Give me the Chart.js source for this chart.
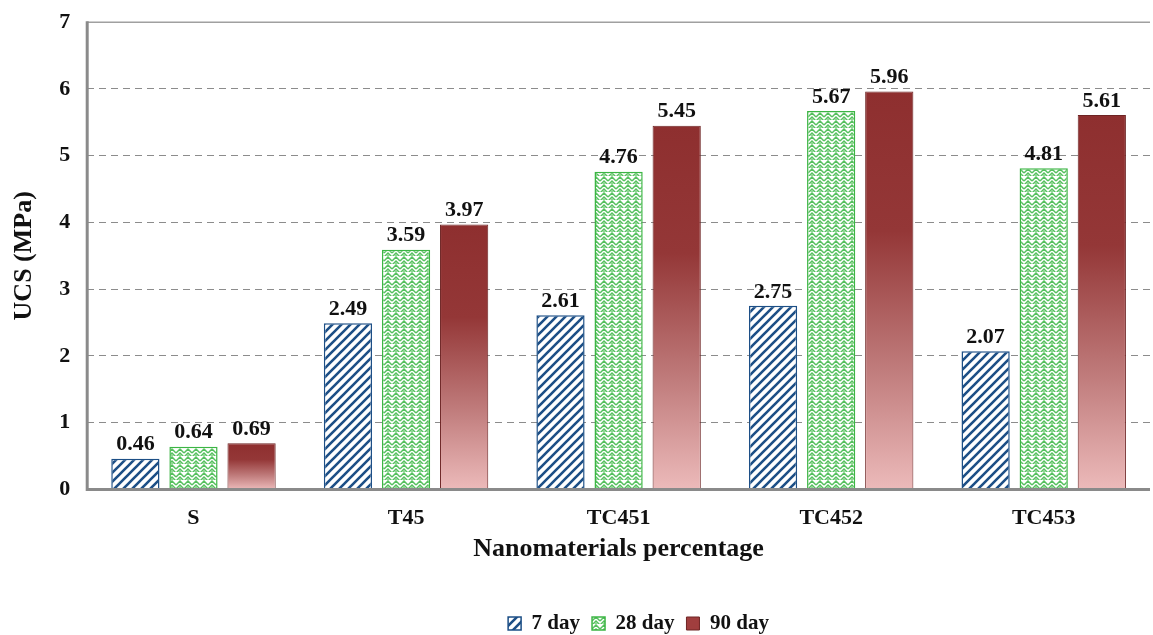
<!DOCTYPE html>
<html>
<head>
<meta charset="utf-8">
<script src="https://cdn.jsdelivr.net/npm/chart.js@4.4.1/dist/chart.umd.min.js"></script>
<style>
  html, body { margin: 0; padding: 0; background: #fff; }
  #wrap { width: 1153px; height: 635px; position: relative; }
</style>
</head>
<body>
<div id="wrap"><canvas id="myChart" width="1153" height="635"></canvas></div>
<script>
var categories = ['S', 'T45', 'TC451', 'TC452', 'TC453'];
var day7 = [0.46, 2.49, 2.61, 2.75, 2.07];
var day28 = [0.64, 3.59, 4.76, 5.67, 4.81];
var day90 = [0.69, 3.97, 5.45, 5.96, 5.61];
var seriesNames = ['7 day', '28 day', '90 day'];
var yTicks = [0, 1, 2, 3, 4, 5, 6, 7];

var FONT = "'Liberation Serif', 'Times New Roman', serif";

// blue diagonal stripes for 7 day
function stripePattern() {
    var c = document.createElement('canvas');
    c.width = 9; c.height = 9;
    var g = c.getContext('2d');
    g.fillStyle = '#fff';
    g.fillRect(0, 0, 9, 9);
    g.strokeStyle = '#1d4f86';
    g.lineWidth = 2.6;
    g.beginPath();
    g.moveTo(-2, 11); g.lineTo(11, -2);
    g.moveTo(-11, 11); g.lineTo(2, -2);
    g.moveTo(7, 11); g.lineTo(20, -2);
    g.stroke();
    return document.getElementById('myChart').getContext('2d').createPattern(c, 'repeat');
}

// green zigzag texture for 28 day
function zigzagPattern() {
    var c = document.createElement('canvas');
    c.width = 8; c.height = 8;
    var g = c.getContext('2d');
    g.fillStyle = '#fff';
    g.fillRect(0, 0, 8, 8);
    g.strokeStyle = '#55c05e';
    g.lineWidth = 1.5;
    g.beginPath();
    g.moveTo(0, 5); g.lineTo(4, 1); g.lineTo(8, 5);
    g.moveTo(0, 9); g.lineTo(4, 5); g.lineTo(8, 9);
    g.stroke();
    g.fillStyle = '#8fd693';
    g.fillRect(3, 6, 2, 2);
    return document.getElementById('myChart').getContext('2d').createPattern(c, 'repeat');
}

function redGradient(context) {
    var chart = context.chart;
    var area = chart.chartArea;
    if (!area || context.raw === undefined) return '#933434';
    var y = chart.scales.y;
    var top = y.getPixelForValue(context.raw);
    var bot = y.getPixelForValue(0);
    var grad = chart.ctx.createLinearGradient(0, top, 0, bot);
    grad.addColorStop(0, '#8e2f2f');
    grad.addColorStop(0.35, '#943737');
    grad.addColorStop(0.7, '#c07c7c');
    grad.addColorStop(1, '#ecbaba');
    return grad;
}

var valueLabels = {
    id: 'valueLabels',
    afterDatasetsDraw: function(chart) {
        var ctx = chart.ctx;
        ctx.save();
        ctx.font = 'bold 22px ' + FONT;
        ctx.fillStyle = '#111';
        ctx.textAlign = 'center';
        ctx.textBaseline = 'bottom';
        chart.data.datasets.forEach(function(ds, i) {
            chart.getDatasetMeta(i).data.forEach(function(bar, j) {
                ctx.fillText(ds.data[j].toFixed(2), bar.x, bar.y - 3);
            });
        });
        ctx.restore();
    }
};

var frameLines = {
    id: 'frameLines',
    afterLayout: function(chart) {
        // legend sits a little right of the page centre
        chart.legend.left += 118;
    },
    afterDraw: function(chart) {
        var a = chart.chartArea;
        var ctx = chart.ctx;
        ctx.save();
        ctx.strokeStyle = '#a0a0a0';
        ctx.lineWidth = 1.5;
        ctx.beginPath();
        ctx.moveTo(a.left, a.top); ctx.lineTo(a.right, a.top);
        ctx.stroke();
        ctx.strokeStyle = '#8a8a8a';
        ctx.lineWidth = 3;
        ctx.beginPath();
        ctx.moveTo(a.left, a.top - 1); ctx.lineTo(a.left, a.bottom);
        ctx.lineTo(a.right, a.bottom);
        ctx.stroke();
        ctx.restore();
    }
};

var ctx = document.getElementById('myChart');
var myChart = new Chart(ctx, {
    type: 'bar',
    data: {
        labels: categories,
        datasets: [
            {
                label: seriesNames[0],
                data: day7,
                backgroundColor: stripePattern(),
                borderColor: '#1d4f86',
                borderWidth: 1.5
            },
            {
                label: seriesNames[1],
                data: day28,
                backgroundColor: zigzagPattern(),
                borderColor: '#3cb544',
                borderWidth: 1.5
            },
            {
                label: seriesNames[2],
                data: day90,
                backgroundColor: redGradient,
                borderColor: '#6e2424',
                borderWidth: 1
            }
        ]
    },
    plugins: [valueLabels, frameLines],
    options: {
        responsive: false,
        animation: false,
        devicePixelRatio: 1,
        categoryPercentage: 0.82,
        barPercentage: 0.83,
        layout: { padding: { top: 4, right: 3, left: 9, bottom: -9 } },
        plugins: {
            tooltip: { enabled: false },
            legend: {
                position: 'bottom',
                labels: {
                    font: { family: FONT, size: 21, weight: 'bold' },
                    color: '#111',
                    boxWidth: 13,
                    boxHeight: 13,
                    padding: 12,
                    generateLabels: function(chart) {
                        var items = Chart.defaults.plugins.legend.labels.generateLabels(chart);
                        items[2].fillStyle = '#a03e3e';
                        items[2].strokeStyle = '#6e2424';
                        return items;
                    }
                }
            }
        },
        scales: {
            x: {
                grid: { display: false },
                border: { display: false },
                ticks: {
                    font: { family: FONT, size: 22, weight: 'bold' },
                    color: '#111',
                    padding: 8
                },
                title: {
                    display: true,
                    text: 'Nanomaterials percentage',
                    font: { family: FONT, size: 26, weight: 'bold' },
                    color: '#111',
                    padding: { top: -6, bottom: 36 }
                }
            },
            y: {
                min: 0,
                max: 7,
                afterBuildTicks: function(axis) {
                    axis.ticks = yTicks.map(function(v) { return { value: v }; });
                },
                grid: { color: '#8c8c8c', lineWidth: 1, drawTicks: true, tickLength: 8, tickColor: 'rgba(0,0,0,0)' },
                border: { display: false, dash: [7, 5] },
                ticks: {
                    font: { family: FONT, size: 22, weight: 'bold' },
                    color: '#111',
                    padding: 9
                },
                title: {
                    display: true,
                    text: 'UCS (MPa)',
                    font: { family: FONT, size: 26, weight: 'bold' },
                    color: '#111',
                    padding: { top: 0, bottom: 10 }
                }
            }
        }
    }
});
</script>
</body>
</html>
